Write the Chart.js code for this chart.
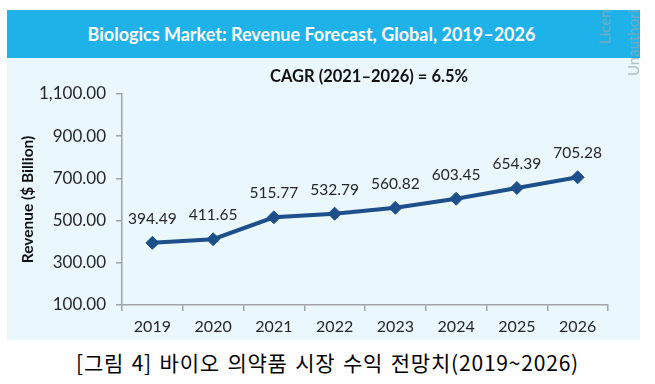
<!DOCTYPE html>
<html>
<head>
<meta charset="utf-8">
<script src="https://cdn.jsdelivr.net/npm/chart.js@4.4.1/dist/chart.umd.min.js"></script>
<style>
    html, body { margin: 0; padding: 0; background: #fff; }
    body { width: 655px; height: 384px; position: relative; overflow: hidden; font-family: Lato, "Open Sans", sans-serif; }
    #banner { position: absolute; left: 7px; top: 10px; width: 633px; height: 48px; background: #1fb2e9; color: #fff;
        font-weight: bold; font-size: 18px; line-height: 48px; text-align: center; }
    #banner span { position: relative; left: -12px; }
    #panel { position: absolute; left: 7px; top: 58px; width: 633px; height: 282px; background: #eaf7fd; }
    .wm { position: absolute; color: #9aa6ad; font-size: 15px; transform-origin: left top; transform: rotate(-90deg); white-space: nowrap; opacity: 0.7; }
    #caption { position: absolute; left: 0; top: 347px; width: 655px; text-align: center; font-size: 21px; letter-spacing: 0.8px; word-spacing: 2px;
        font-family: "Noto Sans CJK KR", sans-serif; color: #000; }
</style>
</head>
<body>
<div id="banner"><span>Biologics Market: Revenue Forecast, Global, 2019–2026</span></div>
<div id="panel"><canvas id="chart" width="633" height="282"></canvas></div>
<div class="wm" style="left:595px; top:44px;">Licen</div>
<div class="wm" style="left:624px; top:76px;">Unauthori</div>
<div id="caption">[그림 4] 바이오 의약품 시장 수익 전망치(2019~2026)</div>
<script>
const years = ['2019', '2020', '2021', '2022', '2023', '2024', '2025', '2026'];
const revenue = [394.49, 411.65, 515.77, 532.79, 560.82, 603.45, 654.39, 705.28];
const yTicks = [100, 300, 500, 700, 900, 1100];
const cagrText = 'CAGR (2021–2026) = 6.5%';

const FONT = 'Lato, "Open Sans", sans-serif';
const LINE_COLOR = '#1d4f8b';
const AXIS_COLOR = '#a0a4a8';

const fmt = (v) => v.toLocaleString('en-US', { minimumFractionDigits: 2, maximumFractionDigits: 2 });

// value labels above each point + CAGR text
const labelsPlugin = {
    id: 'valueLabels',
    afterDatasetsDraw(chart) {
        const { ctx, chartArea } = chart;
        const meta = chart.getDatasetMeta(0);
        ctx.save();
        ctx.fillStyle = '#262626';
        ctx.font = '15.5px ' + FONT;
        ctx.textAlign = 'center';
        ctx.textBaseline = 'middle';
        meta.data.forEach((pt, i) => ctx.fillText(fmt(revenue[i]), pt.x, pt.y - 24));
        ctx.font = 'bold 16.5px ' + FONT;
        ctx.fillStyle = '#111';
        ctx.fillText(cagrText, (chartArea.left + chartArea.right) / 2 + 4, 19);
        ctx.restore();
    }
};

new Chart(document.getElementById('chart'), {
    type: 'line',
    data: {
        labels: years,
        datasets: [{
            data: revenue,
            borderColor: LINE_COLOR,
            backgroundColor: LINE_COLOR,
            borderWidth: 4,
            pointStyle: 'rectRot',
            pointRadius: 6.5,
            pointBorderWidth: 1,
            tension: 0,
        }]
    },
    options: {
        responsive: false,
        animation: false,
        layout: { padding: { top: 36, right: 32, left: 0, bottom: 0 } },
        plugins: { legend: { display: false }, tooltip: { enabled: false } },
        scales: {
            x: {
                offset: true,
                grid: { offset: true, drawOnChartArea: false, color: AXIS_COLOR, tickLength: 6, lineWidth: 1.5 },
                border: { color: AXIS_COLOR, width: 1.5 },
                ticks: { color: '#262626', font: { family: FONT, size: 16 }, padding: 6, maxRotation: 0 },
                afterFit: (s) => { s.height = 35; },
            },
            y: {
                min: 100,
                max: 1100,
                afterBuildTicks: (s) => { s.ticks = yTicks.map(v => ({ value: v })); },
                grid: { drawOnChartArea: false, color: AXIS_COLOR, tickLength: 6, lineWidth: 1.5 },
                border: { color: AXIS_COLOR, width: 1.5 },
                ticks: { color: '#262626', font: { family: FONT, size: 17 }, padding: 10, callback: (v) => fmt(v) },
                title: { display: true, text: 'Revenue ($ Billion)', color: '#111', font: { family: FONT, size: 15.5, weight: 'bold' }, padding: { top: 12, bottom: 0 } },
                afterFit: (s) => { s.width = 115; },
            }
        }
    },
    plugins: [labelsPlugin]
});
</script>
</body>
</html>
